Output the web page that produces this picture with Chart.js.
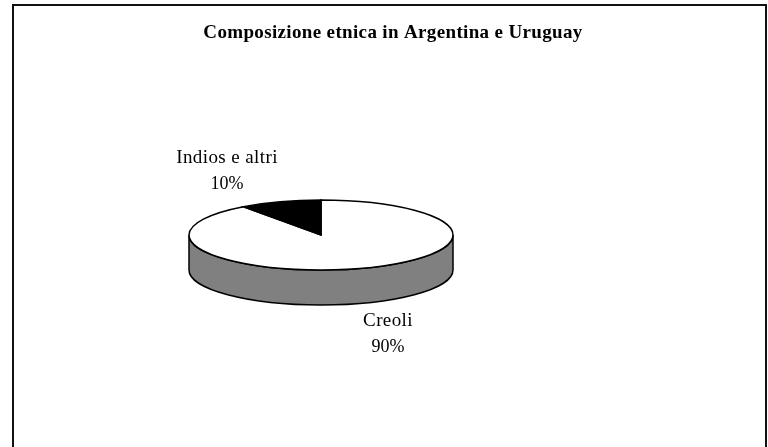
<!DOCTYPE html>
<html>
<head>
<meta charset="utf-8">
<title>Composizione etnica in Argentina e Uruguay</title>
<script src="https://cdn.jsdelivr.net/npm/chart.js@4"></script>
<style>
  body { margin: 0; background: #fff; overflow: hidden; }
  #frame { position: absolute; left: 12px; top: 4px; width: 755px; height: 460px; border: 2px solid #111; box-sizing: border-box; }
  #myChart { position: absolute; left: 0; top: 0; }
</style>
</head>
<body>
<div id="frame"></div>
<canvas id="myChart" width="768" height="447"></canvas>
<script>
var titleText = 'Composizione etnica in Argentina e Uruguay';
var labels = ['Creoli', 'Indios e altri'];
var values = [90, 10];
var percents = ['90%', '10%'];
var colors = ['#ffffff', '#000000'];

var sideColor = '#808080';
var squash = 35 / 132; // tilt of the pie
var depth = 35;

// where the label lines go on the page
var labelPos = [
  { x: 388, y1: 321, y2: 347 },
  { x: 227, y1: 158, y2: 184 }
];

var pie3d = {
  id: 'pie3d',
  beforeDatasetsDraw: function(chart) {
    var ctx = chart.ctx;
    var arc = chart.getDatasetMeta(0).data[0];
    var r = arc.outerRadius;
    var ry = r * squash;
    // side wall under the front edge
    ctx.save();
    ctx.beginPath();
    ctx.ellipse(arc.x, arc.y, r, ry, 0, 0, Math.PI);
    ctx.lineTo(arc.x - r, arc.y + depth);
    ctx.ellipse(arc.x, arc.y + depth, r, ry, 0, Math.PI, 0, true);
    ctx.closePath();
    ctx.fillStyle = sideColor;
    ctx.fill();
    ctx.lineWidth = 1.5;
    ctx.strokeStyle = '#000';
    ctx.stroke();
    ctx.restore();
    // squash the slices
    ctx.save();
    ctx.translate(0, arc.y);
    ctx.scale(1, squash);
    ctx.translate(0, -arc.y);
  },
  afterDatasetsDraw: function(chart) {
    var ctx = chart.ctx;
    ctx.restore();
    // outline here so the line width is not squashed too
    chart.getDatasetMeta(0).data.forEach(function(arc) {
      var r = arc.outerRadius;
      ctx.save();
      ctx.beginPath();
      ctx.moveTo(arc.x, arc.y);
      ctx.ellipse(arc.x, arc.y, r, r * squash, 0, arc.startAngle, arc.endAngle);
      ctx.closePath();
      ctx.lineWidth = 1.5;
      ctx.strokeStyle = '#000';
      ctx.stroke();
      ctx.restore();
    });
  },
  afterDraw: function(chart) {
    var ctx = chart.ctx;
    ctx.save();
    ctx.fillStyle = '#000';
    ctx.textAlign = 'center';
    ctx.textBaseline = 'middle';
    ctx.font = 'bold 19px "Liberation Serif"';
    ctx.letterSpacing = '0.35px';
    ctx.fillText(titleText, 393, 33);
    labels.forEach(function(label, i) {
      ctx.font = '19px "Liberation Serif"';
      ctx.letterSpacing = '0.4px';
      ctx.fillText(label, labelPos[i].x, labelPos[i].y1);
      ctx.font = '18px "Liberation Serif"';
      ctx.letterSpacing = '0px';
      ctx.fillText(percents[i], labelPos[i].x, labelPos[i].y2);
    });
    ctx.restore();
  }
};

var ctx = document.getElementById('myChart').getContext('2d');

new Chart(ctx, {
  type: 'pie',
  data: {
    labels: labels,
    datasets: [{
      data: values,
      backgroundColor: colors,
      borderWidth: 0
    }]
  },
  options: {
    responsive: false,
    animation: false,
    layout: {
      padding: { left: 189, right: 315, top: 103, bottom: 80 }
    },
    plugins: {
      legend: { display: false },
      tooltip: { enabled: false }
    }
  },
  plugins: [pie3d]
});
</script>
</body>
</html>
